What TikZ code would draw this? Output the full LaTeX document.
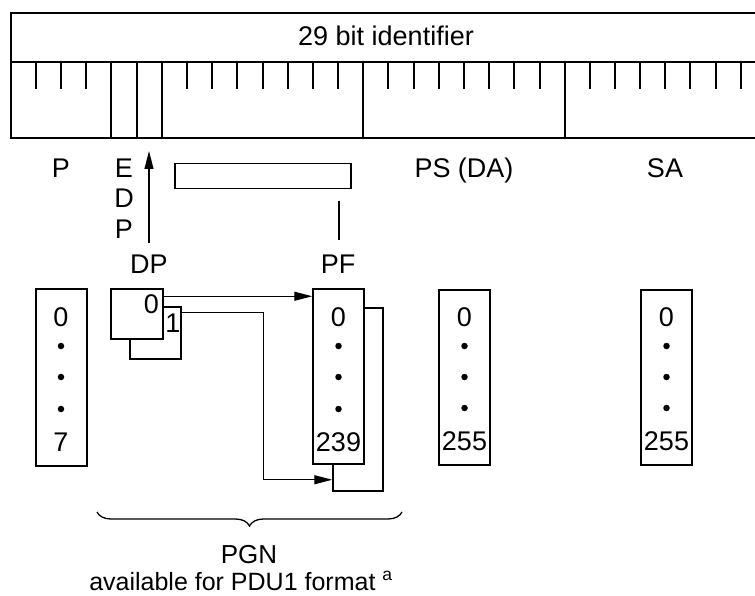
\documentclass[tikz,border=0pt]{standalone}
\usepackage{fontspec}
\setmainfont{Liberation Sans}
\usetikzlibrary{arrows.meta,decorations.pathreplacing}
\begin{document}
\begin{tikzpicture}[x=1pt,y=-1pt,
  font=\fontsize{27}{31}\selectfont,
  frameline/.style={line width=2pt},
  midline/.style={line width=1.4pt},
  tickline/.style={line width=1.4pt},
  box/.style={draw,line width=1.5pt,fill=white,inner sep=0pt},
  conn/.style={line width=1.1pt},
  tip/.style={-{Triangle[length=18pt,width=9pt]}},
  lbl/.style={anchor=base,inner sep=0pt},
  dot/.style={circle,fill,inner sep=0pt,minimum size=6.5pt}]
\useasboundingbox (0,0) rectangle (755,596);
\clip (0,0) rectangle (755,596);
% identifier field
\draw[frameline] (780,13) -- (11,13) -- (11,138) -- (780,138);
\draw[midline] (11,62) -- (780,62);
\foreach \x in {111,137,162,363,565} \draw[frameline] (\x,62) -- (\x,138);
\foreach \x in {36,61,86,187,212,237,263,288,313,338,388,414,439,464,489,514,540,590,615,640,665,690,716,741}
  \draw[tickline] (\x,62) -- (\x,89);
\node[lbl] (title) at (386,45.7) {29 bit identifier};
% field labels
\node[lbl] (pl) at (61,177.7) {P};
\node[lbl] (e) at (124,177.7) {E};
\node[lbl] (d) at (124,207.7) {D};
\node[lbl] (p2) at (124,238.7) {P};
\node[lbl] (psl) at (464,177.7) {PS (DA)};
\node[lbl] (sal) at (665,177.7) {SA};
\node[lbl] (dpl) at (149,273.7) {DP};
\node[lbl] (pfl) at (338,273.7) {PF};
% PF field bar
\node[box,minimum width=176pt,minimum height=25pt] (pfbar) at (263,176) {};
\coordinate (pftop) at (339,201);
\coordinate (pfbot) at (339,240);
\draw[conn] (pftop) -- (pfbot);
\coordinate (dptop) at (149,151);
\coordinate (dpbot) at (149,243);
\draw[conn,tip] (dpbot) -- (dptop);
% P box
\node[box,minimum width=51pt,minimum height=177pt] (pbox) at (61.5,377.5) {};
\node[lbl] at (61,326.7) {0};
\node[dot] at (61,346) {};
\node[dot] at (61,377) {};
\node[dot] at (61,409) {};
\node[lbl] at (61,451.7) {7};
% DP squares
\node[box,minimum width=51pt,minimum height=52pt] (dpback) at (155.5,333) {};
\node[box,minimum width=52pt,minimum height=50pt] (dpfront) at (137,314) {};
\node[lbl] (dp0) at (151.5,313) {0};
\node[lbl] (dp1) at (173,332) {1};
% PF boxes
\node[box,minimum width=50pt,minimum height=183pt] (pfback) at (358,399.5) {};
\node[box,minimum width=51pt,minimum height=175pt] (pffront) at (338.5,376.5) {};
\node[lbl] at (338.5,326.7) {0};
\node[dot] at (338.5,346) {};
\node[dot] at (338.5,377) {};
\node[dot] at (338.5,409) {};
\node[lbl] at (338.5,451.7) {239};
% PS box
\node[box,minimum width=51pt,minimum height=175pt] (psbox) at (464.5,377.5) {};
\node[lbl] at (464.5,326.7) {0};
\node[dot] at (464.5,346) {};
\node[dot] at (464.5,377) {};
\node[dot] at (464.5,408) {};
\node[lbl] at (464.5,450.7) {255};
% SA box
\node[box,minimum width=51pt,minimum height=175pt] (sabox) at (666.5,377.5) {};
\node[lbl] at (666.5,326.7) {0};
\node[dot] at (666.5,346) {};
\node[dot] at (666.5,377) {};
\node[dot] at (666.5,408) {};
\node[lbl] at (666.5,450.7) {255};
% connectors
\draw[conn,tip] ([yshift=-8pt]dpfront.north east) -- ([yshift=-8pt]pffront.north west);
\draw[conn,tip] ([yshift=-6pt]dpback.north east) -- ++(82,0) |- ([yshift=12pt]pfback.south west);
% brace
\coordinate (bl) at (97,512);
\coordinate (br) at (402,512);
\draw[line width=1.3pt,decorate,decoration={brace,mirror,amplitude=14pt}] (bl) -- (br);
\node[lbl,font=\fontsize{26}{30}\selectfont] (pgn) at (249,563) {PGN};
\node[lbl,font=\fontsize{25}{29}\selectfont] (avail) at (241,590) {available for PDU1 format \textsuperscript{a}};
\end{tikzpicture}
\end{document}
